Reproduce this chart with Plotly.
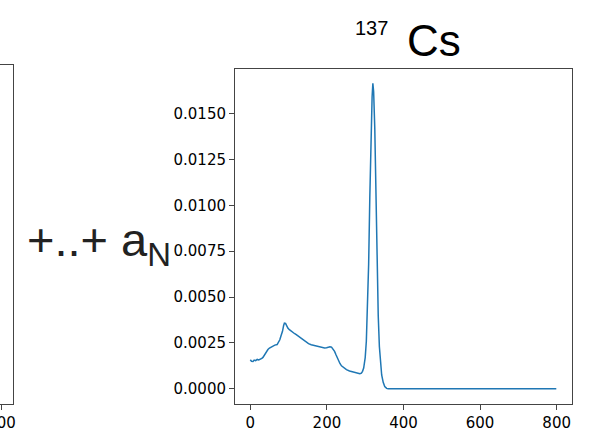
import plotly.graph_objects as go

# Channel numbers and normalised counts of the 137Cs spectrum
channels = [0, 3, 7, 10, 14, 18, 22, 26, 30, 33, 36, 39, 42, 46, 50, 54, 59, 64, 70, 74,
            77, 80, 84, 87, 89, 92, 95, 98, 102, 107, 112, 116, 120, 126, 133, 140, 146,
            152, 159, 164, 168, 174, 181, 187, 194, 199, 203, 208, 212, 216, 220, 224,
            229, 234, 238, 244, 251, 259, 268, 275, 281, 286, 290, 293, 296, 300, 303,
            306, 309, 312, 315, 318, 320, 322, 325, 328, 331, 334, 337, 340, 343, 347,
            351, 356, 360, 400, 500, 600, 700, 799]
counts = [0.00158, 0.00150, 0.00149, 0.00156, 0.00153, 0.00160, 0.00157, 0.00160, 0.00165,
          0.00171, 0.00182, 0.00195, 0.00204, 0.00214, 0.00222, 0.00228, 0.00235, 0.00238,
          0.00241, 0.00252, 0.00267, 0.00288, 0.00313, 0.00345, 0.00358, 0.00356, 0.00342,
          0.00331, 0.00322, 0.00313, 0.00306, 0.00300, 0.00295, 0.00286, 0.00276, 0.00264,
          0.00253, 0.00246, 0.00240, 0.00238, 0.00236, 0.00233, 0.00227, 0.00226, 0.00222,
          0.00224, 0.00227, 0.00229, 0.00227, 0.00218, 0.00204, 0.00184, 0.00158, 0.00138,
          0.00125, 0.00114, 0.00104, 0.00097, 0.00091, 0.00086, 0.00082, 0.00082, 0.00085,
          0.00095, 0.00113, 0.00170, 0.00260, 0.00420, 0.00680, 0.01040, 0.01370, 0.01590,
          0.01665, 0.01620, 0.01420, 0.01060, 0.00680, 0.00400, 0.00230, 0.00130, 0.00075,
          0.00035, 0.00012, 0.00002, 0.0, 0.0, 0.0, 0.0, 0.0, 0.0]

x_ticks = [0, 200, 400, 600, 800]
y_ticks = [0.0, 0.0025, 0.005, 0.0075, 0.01, 0.0125, 0.015]
title_iso = "137"
title_el = "Cs"
mid_text = "+..+ a<sub>N</sub>"
left_tick = [800]

W, H = 589, 433
ML, MR, MT, MB = 0, 17, 65, 29
PW, PH = W - ML - MR, H - MT - MB

def px(x):
    return (x - ML) / PW

def py(y):
    return (H - MB - y) / PH

fig = go.Figure()
fig.add_trace(go.Scatter(x=channels, y=counts, mode="lines",
                         line=dict(color="#1f77b4", width=1.5),
                         xaxis="x", yaxis="y", showlegend=False))
# invisible trace for partial left panel
fig.add_trace(go.Scatter(x=[800], y=[0], mode="markers", marker=dict(opacity=0),
                         xaxis="x2", yaxis="y2", showlegend=False, hoverinfo="skip"))

tickfont = dict(family="DejaVu Sans", size=15, color="#000")
axis_common = dict(showline=True, mirror=True, linecolor="#444", linewidth=1,
                   showgrid=False, zeroline=False, ticks="outside", ticklen=5,
                   tickcolor="#444", tickfont=tickfont, automargin=False)

fig.update_layout(
    width=W, height=H, autosize=False,
    margin=dict(l=ML, r=MR, t=MT, b=MB, pad=0, autoexpand=False),
    paper_bgcolor="white", plot_bgcolor="white",
    xaxis=dict(domain=[px(235), 1], range=[-40, 840], tickvals=x_ticks,
               anchor="y", **axis_common),
    yaxis=dict(domain=[0, py(69)], range=[-0.00083, 0.01743], tickvals=y_ticks,
               tickformat=".4f", anchor="x", **axis_common),
    xaxis2=dict(domain=[0, px(12.5)], range=[796, 829], tickvals=left_tick,
                anchor="y2", ticklabeloverflow="allow", **axis_common),
    yaxis2=dict(domain=[0, 1], range=[0, 1], anchor="x2", showticklabels=False,
                showline=True, mirror=True, linecolor="#444", linewidth=1,
                showgrid=False, zeroline=False, ticks="", automargin=False),
)

fig.add_annotation(x=px(25), y=py(243), xref="paper", yref="paper",
                   text=mid_text, showarrow=False, xanchor="left", yanchor="middle",
                   font=dict(family="Liberation Sans", size=47, color="#222"))
fig.add_annotation(x=px(371), y=py(28), xref="paper", yref="paper",
                   text=title_iso, showarrow=False, xanchor="center", yanchor="middle",
                   font=dict(family="Liberation Sans", size=20, color="#000"))
fig.add_annotation(x=px(434), y=py(41), xref="paper", yref="paper",
                   text=title_el, showarrow=False, xanchor="center", yanchor="middle",
                   font=dict(family="Liberation Sans", size=44, color="#000"))

fig.write_html("out.html")
